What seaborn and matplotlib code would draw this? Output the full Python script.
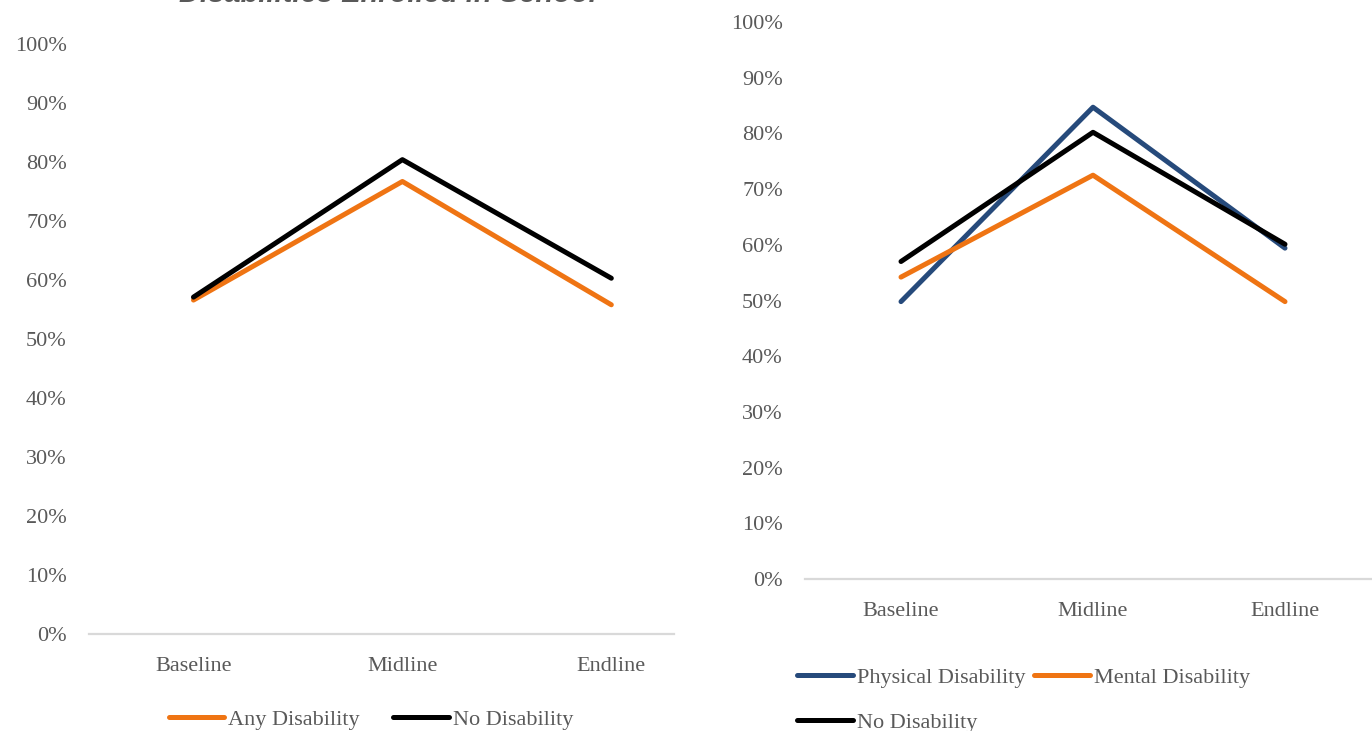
import matplotlib
matplotlib.use("Agg")
import matplotlib.pyplot as plt
import seaborn as sns
import pandas as pd
from matplotlib.ticker import PercentFormatter

# Survey rounds
rounds = ["Baseline", "Midline", "Endline"]

# Left panel: enrollment share, any disability vs. none
any_disability = [0.566, 0.767, 0.558]
no_disability_left = [0.571, 0.804, 0.603]

# Right panel: enrollment share by disability type
physical_disability = [0.498, 0.847, 0.594]
mental_disability = [0.542, 0.725, 0.498]
no_disability_right = [0.570, 0.802, 0.601]

title_text = "Disabilities Enrolled in School"
yticks = [0.0, 0.1, 0.2, 0.3, 0.4, 0.5, 0.6, 0.7, 0.8, 0.9, 1.0]

ORANGE = "#EF7413"
BLACK = "#000000"
BLUE = "#264A7B"
GREY_TXT = "#595959"
AXIS_GREY = "#D9D9D9"

sns.set_theme(style="white")
plt.rcParams["font.family"] = ["Liberation Serif", "DejaVu Serif"]

W, H = 1372, 731
fig = plt.figure(figsize=(W / 100, H / 100), dpi=100)


def frac_box(x0, x1, y_top, y_bot):
    return [x0 / W, 1 - y_bot / H, (x1 - x0) / W, (y_bot - y_top) / H]


ax1 = fig.add_axes(frac_box(89, 674, 44, 634))
ax2 = fig.add_axes(frac_box(805, 1381, 22, 579))

LW = 3.6

left_df = pd.DataFrame({"Round": rounds, "Any Disability": any_disability,
                        "No Disability": no_disability_left})
right_df = pd.DataFrame({"Round": rounds, "Physical Disability": physical_disability,
                         "Mental Disability": mental_disability,
                         "No Disability": no_disability_right})

sns.lineplot(data=left_df, x="Round", y="Any Disability", color=ORANGE, lw=LW,
             label="Any Disability", ax=ax1, solid_capstyle="round")
sns.lineplot(data=left_df, x="Round", y="No Disability", color=BLACK, lw=LW,
             label="No Disability", ax=ax1, solid_capstyle="round")

sns.lineplot(data=right_df, x="Round", y="Physical Disability", color=BLUE, lw=LW,
             label="Physical Disability", ax=ax2, solid_capstyle="round")
sns.lineplot(data=right_df, x="Round", y="Mental Disability", color=ORANGE, lw=LW,
             label="Mental Disability", ax=ax2, solid_capstyle="round")
sns.lineplot(data=right_df, x="Round", y="No Disability", color=BLACK, lw=LW,
             label="No Disability", ax=ax2, solid_capstyle="round")

for ax, xr in ((ax1, 2.30), (ax2, 2.5)):
    ax.set_xlim(-0.5, xr)
    ax.set_ylim(0, 1.0)
    ax.set_yticks(yticks)
    ax.yaxis.set_major_formatter(PercentFormatter(1.0, decimals=0))
    ax.set_xlabel("")
    ax.set_ylabel("")
    for s in ("top", "right", "left"):
        ax.spines[s].set_visible(False)
    ax.spines["bottom"].set_color(AXIS_GREY)
    ax.spines["bottom"].set_linewidth(1.6)
    ax.tick_params(axis="y", length=0, pad=16, labelsize=16, labelcolor=GREY_TXT)
    ax.tick_params(axis="x", length=0, pad=16.5, labelsize=16, labelcolor=GREY_TXT)
    ax.grid(False)
    ax.patch.set_alpha(0)
    ax.get_legend().remove()

# Legends below each panel
h1, l1 = ax1.get_legend_handles_labels()
fig.legend(h1, l1, loc="center", bbox_to_anchor=(371 / W, 1 - 720 / H), ncol=2,
           frameon=False, fontsize=16, labelcolor=GREY_TXT, handlelength=2.5,
           handletextpad=0.18, columnspacing=1.5, borderpad=0)

h2, l2 = ax2.get_legend_handles_labels()
order = [0, 2, 1]
fig.legend([h2[i] for i in order], [l2[i] for i in order], loc="upper left",
           bbox_to_anchor=(797 / W, 1 - 667 / H), ncol=2, frameon=False,
           fontsize=16, labelcolor=GREY_TXT, handlelength=2.5, handletextpad=0.18,
           columnspacing=0.4, labelspacing=1.12, borderpad=0, borderaxespad=0)

# Chart heading, partly clipped by the top edge
fig.text(388 / W, 1 - 2 / H, title_text, ha="center", va="baseline",
         fontsize=21, fontweight="bold", fontstyle="italic", color=GREY_TXT,
         family=["Liberation Sans", "DejaVu Sans"])

fig.savefig("out.png", dpi=100)
